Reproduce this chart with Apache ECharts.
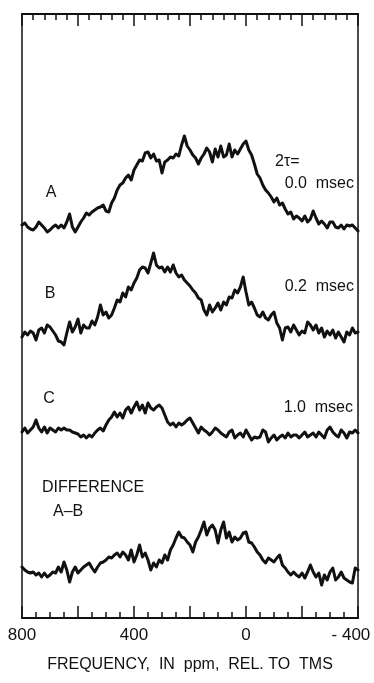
<!DOCTYPE html>
<html><head><meta charset="utf-8">
<script src="https://cdn.jsdelivr.net/npm/echarts@6/dist/echarts.min.js"></script>
<style>html,body{margin:0;padding:0;background:#fff}#c{width:374px;height:683px}</style>
</head><body><div id="c"></div>
<script>
// Chemical shift sample positions (ppm, rel. to TMS)
const ppm = [800,790,780,770,760,750,740,730,720,710,
700,690,680,670,660,650,640,630,620,610,
600,590,580,570,560,550,540,530,520,510,
500,490,480,470,460,450,440,430,420,410,
400,390,380,370,360,350,340,330,320,310,
300,290,280,270,260,250,240,230,220,210,
200,190,180,170,160,150,140,130,120,110,
100,90,80,70,60,50,40,30,20,10,
0,-10,-20,-30,-40,-50,-60,-70,-80,-90,
-100,-110,-120,-130,-140,-150,-160,-170,-180,-190,
-200,-210,-220,-230,-240,-250,-260,-270,-280,-290,
-300,-310,-320,-330,-340,-350,-360,-370,-380,-390,-400];

// Spectrum A: 2tau = 0.0 msec
const traceA = [5,7,3,1,0,3,8,5,2,-2, 0,3,5,2,5,2,8,16,3,-2, 3,8,12,17,15,18,20,22,23,25,
19,18,27,32,40,45,47,52,55,50, 60,65,70,69,77,78,72,76,69,70, 57,68,70,73,72,76,74,85,94,84,
80,75,72,66,72,76,82,78,68,81, 73,84,73,75,86,73,80,76,81,86, 89,80,75,66,56,52,45,40,37,33,
28,32,25,27,21,16,18,11,14,12, 9,14,8,11,19,12,6,9,6,2, 8,8,3,2,5,1,5,4,5,2,-1];

// Spectrum B: 2tau = 0.2 msec
const traceB = [3,8,5,9,7,0,10,12,7,15, 13,9,5,-1,-2,-5,7,18,8,13, 21,7,15,12,12,19,15,23,35,25,
28,22,25,32,40,38,47,43,53,50, 57,62,70,73,72,67,77,87,75,72, 73,68,73,68,75,67,63,65,60,57,
54,50,47,42,40,30,25,35,28,32, 37,30,38,35,43,42,50,47,53,63, 48,35,38,32,25,23,28,22,20,25,
28,17,12,0,12,13,8,15,10,5, 9,7,18,15,10,15,7,12,3,9, 5,10,2,8,3,-2,8,5,12,7,8];

// Spectrum C: 2tau = 1.0 msec
const traceC = [3,7,2,5,8,15,7,3,8,2, 7,5,3,7,5,7,5,5,3,2, 1,-2,0,-3,0,-2,2,5,7,4,
10,15,18,23,18,22,17,25,28,22, 28,33,25,30,22,32,27,25,28,30, 27,20,13,10,12,8,12,10,12,15,
17,12,7,2,8,5,3,0,3,7, 5,2,0,-2,3,5,-3,0,2,-2, 5,0,-5,-2,-3,-2,5,3,-7,-3,
0,-5,-2,0,-3,2,-2,0,0,-3, 0,3,-2,0,2,-2,3,0,-3,5, 8,3,0,-2,5,2,-3,3,2,5,2];

// Difference A-B
const traceD = [11,8,6,5,6,3,5,1,5,1, 3,6,5,11,6,16,8,-4,6,11, 5,8,11,13,15,10,6,11,15,16,
18,21,20,23,25,21,26,23,18,28, 16,23,33,21,25,18,8,15,11,18, 15,23,18,28,33,40,46,41,40,36,
33,26,36,41,48,56,43,50,53,48, 35,48,56,40,46,36,41,38,40,45, 46,36,35,31,26,23,18,15,20,18,
16,20,23,13,10,6,3,6,3,1, 5,0,6,13,6,1,5,-7,3,-2, 6,10,-2,1,6,0,-2,-4,-5,10,8];

const xTickLabels = [800, 400, 0, -400];
const traceNames = ['A', 'B', 'C', 'A-B'];

const FONT = "'Liberation Sans', Arial, sans-serif";
const INK = '#111';
const traces = [traceA, traceB, traceC, traceD];
const baselines = [230, 340, 435, 578]; // layout: pixel baseline of each stacked trace

const chart = echarts.init(document.getElementById('c'), null, {renderer: 'canvas'});

const grids = [{left: 22, right: 16, top: 14, bottom: 65, show: true, borderColor: INK, borderWidth: 1.5,
  backgroundColor: 'transparent', containLabel: false, outerBoundsMode: 'none'}];
const xAxes = [
  {gridIndex: 0, type: 'value', position: 'bottom', min: -400, max: 800, interval: 200, inverse: true,
   axisLine: {show: true, lineStyle: {color: INK, width: 2}},
   axisTick: {show: true, inside: true, length: 12, lineStyle: {color: INK, width: 1.5}},
   minorTick: {show: true, splitNumber: 4, length: 6, lineStyle: {color: INK, width: 1.5}},
   splitLine: {show: false}, minorSplitLine: {show: false},
   axisLabel: {show: true, margin: 9, color: INK, fontFamily: FONT, fontSize: 17,
     showMinLabel: true, showMaxLabel: true, hideOverlap: false,
     formatter: v => xTickLabels.indexOf(v) < 0 ? '' : (v < 0 ? '- ' + Math.abs(v) + '   ' : String(v))},
   name: 'FREQUENCY,  IN  ppm,  REL. TO  TMS', nameLocation: 'middle', nameGap: 39,
   nameTextStyle: {color: INK, fontFamily: FONT, fontSize: 16}},
  {gridIndex: 0, type: 'value', position: 'top', min: -400, max: 800, interval: 200, inverse: true,
   axisLine: {show: true, lineStyle: {color: INK, width: 2}},
   axisTick: {show: true, inside: true, length: 12, lineStyle: {color: INK, width: 1.5}},
   minorTick: {show: true, splitNumber: 5, length: 6, lineStyle: {color: INK, width: 1.5}},
   splitLine: {show: false}, minorSplitLine: {show: false},
   axisLabel: {show: false}}
];
const yAxes = [{gridIndex: 0, type: 'value', min: 0, max: 1, show: false}];
const series = [];
traces.forEach((t, k) => {
  const gi = k + 1;
  grids.push({left: 22, right: 16, top: baselines[k] - 100, height: 120, show: false,
    containLabel: false, outerBoundsMode: 'none'});
  xAxes.push({gridIndex: gi, type: 'value', min: -400, max: 800, inverse: true, show: false});
  yAxes.push({gridIndex: gi, type: 'value', min: -20, max: 100, show: false});
  series.push({
    name: traceNames[k], type: 'line', xAxisIndex: k + 2, yAxisIndex: gi,
    data: ppm.map((p, i) => [p, t[i]]),
    showSymbol: false, symbol: 'none', smooth: false,
    lineStyle: {color: INK, width: 3, join: 'round', cap: 'round'},
    silent: true
  });
});

function txt(text, x, y, align) {
  return {type: 'text', x: x, y: y, silent: true,
    style: {text: text, font: '16px ' + FONT, fill: INK,
      align: align, textAlign: align, verticalAlign: 'middle', textVerticalAlign: 'middle'}};
}

chart.setOption({
  animation: false,
  backgroundColor: '#fff',
  grid: grids, xAxis: xAxes, yAxis: yAxes, series: series,
  graphic: [
    txt('A', 51, 193, 'center'),
    txt('2τ=', 275, 162, 'left'),
    txt('0.0  msec', 354, 184, 'right'),
    txt('B', 50, 294, 'center'),
    txt('0.2  msec', 354, 287, 'right'),
    txt('C', 49, 399, 'center'),
    txt('1.0  msec', 353, 408, 'right'),
    txt('DIFFERENCE', 42, 488, 'left'),
    txt('A–B', 53, 512, 'left')
  ]
});
</script></body></html>
